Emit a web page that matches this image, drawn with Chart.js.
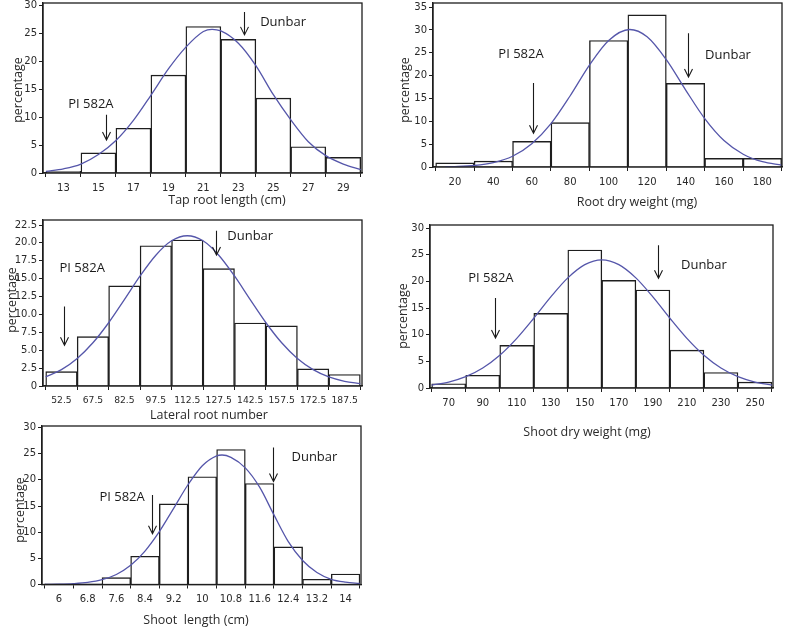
<!DOCTYPE html>
<html>
<head>
<meta charset="utf-8">
<script src="https://cdn.jsdelivr.net/npm/chart.js@4"></script>
<style>
    body { margin: 0; background: #fff; width: 791px; height: 631px; position: relative; overflow: hidden; }
    canvas { position: absolute; }
</style>
</head>
<body>
<canvas id="tapRoot" width="395" height="210" style="left:0;top:0"></canvas>
<canvas id="rootWeight" width="396" height="210" style="left:395px;top:0"></canvas>
<canvas id="lateralRoot" width="395" height="215" style="left:0;top:210px"></canvas>
<canvas id="shootWeight" width="396" height="230" style="left:395px;top:210px"></canvas>
<canvas id="shootLength" width="395" height="213" style="left:0;top:418px"></canvas>
<script>
// Tap root length (cm)
const tapCenters = [13, 15, 17, 19, 21, 23, 25, 27, 29];
const tapLabels = ['13', '15', '17', '19', '21', '23', '25', '27', '29'];
const tapPct = [0.3, 3.6, 8.0, 17.5, 26.2, 23.9, 13.4, 4.7, 2.8];
const tapCurveX = [12, 13, 14, 15, 16, 17, 18, 19, 20, 21, 21.5, 22, 23, 24, 25, 26, 27, 28, 29, 30];
const tapCurveY = [0.3, 0.75, 1.6, 3.3, 5.8, 9.4, 13.9, 18.6, 22.5, 25.3, 25.7, 25.4, 23.2, 19.2, 14.0, 9.5, 5.6, 3.1, 1.6, 0.6];
const tapYTicks = [0, 5, 10, 15, 20, 25, 30];

// Root dry weight (mg)
const rootCenters = [20, 40, 60, 80, 100, 120, 140, 160, 180];
const rootLabels = ['20', '40', '60', '80', '100', '120', '140', '160', '180'];
const rootPct = [0.9, 1.3, 5.6, 9.7, 27.7, 33.3, 18.3, 1.9, 1.9];
const rootCurveX = [15, 20, 30, 40, 50, 60, 70, 80, 90, 100, 111, 120, 130, 140, 150, 160, 170, 180, 190];
const rootCurveY = [0.05, 0.1, 0.33, 0.95, 2.35, 5.1, 9.5, 15.6, 22.3, 27.7, 30.1, 28.5, 23.5, 16.9, 10.6, 5.8, 2.8, 1.15, 0.42];
const rootYTicks = [0, 5, 10, 15, 20, 25, 30, 35];

// Lateral root number
const latCenters = [52.5, 67.5, 82.5, 97.5, 112.5, 127.5, 142.5, 157.5, 172.5, 187.5];
const latLabels = ['52.5', '67.5', '82.5', '97.5', '112.5', '127.5', '142.5', '157.5', '172.5', '187.5'];
const latPct = [2.0, 6.9, 14.0, 19.6, 20.4, 16.4, 8.8, 8.4, 2.4, 1.6];
const latCurveX = [45, 52.5, 60, 67.5, 75, 82.5, 90, 97.5, 105, 112.5, 120, 127.5, 135, 142.5, 150, 157.5, 165, 172.5, 180, 187.5, 195];
const latCurveY = [1.27, 2.29, 3.85, 6.04, 8.84, 12.07, 15.38, 18.28, 20.29, 21.0, 20.29, 18.28, 15.38, 12.07, 8.84, 6.04, 3.85, 2.29, 1.27, 0.66, 0.32];
const latYTicks = [0, 2.5, 5, 7.5, 10, 12.5, 15, 17.5, 20, 22.5];
const latYLabels = ['0', '2.5', '5.0', '7.5', '10.0', '12.5', '15.0', '17.5', '20.0', '22.5'];

// Shoot dry weight (mg)
const swCenters = [70, 90, 110, 130, 150, 170, 190, 210, 230, 250];
const swLabels = ['70', '90', '110', '130', '150', '170', '190', '210', '230', '250'];
const swPct = [0.8, 2.4, 8.0, 14.0, 25.9, 20.2, 18.4, 7.1, 2.9, 1.1];
const swCurveX = [60, 70, 80, 90, 100, 110, 120, 130, 140, 150, 160, 170, 180, 190, 200, 210, 220, 230, 240, 250, 260];
const swCurveY = [0.54, 1.11, 2.12, 3.75, 6.14, 9.32, 13.1, 17.1, 20.67, 23.16, 24.06, 23.16, 20.67, 17.1, 13.1, 9.32, 6.14, 3.75, 2.12, 1.11, 0.54];
const swYTicks = [0, 5, 10, 15, 20, 25, 30];

// Shoot length (cm)
const slCenters = [6, 6.8, 7.6, 8.4, 9.2, 10, 10.8, 11.6, 12.4, 13.2, 14];
const slLabels = ['6', '6.8', '7.6', '8.4', '9.2', '10', '10.8', '11.6', '12.4', '13.2', '14'];
const slPct = [0.15, 0.15, 1.3, 5.4, 15.4, 20.6, 25.8, 19.3, 7.2, 1.0, 2.0];
const slCurveX = [5.6, 6.0, 6.4, 6.8, 7.2, 7.6, 8.0, 8.4, 8.8, 9.2, 9.6, 10.0, 10.4, 10.55, 10.8, 11.2, 11.6, 12.0, 12.4, 12.8, 13.2, 13.6, 14.0, 14.4];
const slCurveY = [0.02, 0.06, 0.16, 0.39, 0.91, 1.92, 3.67, 6.39, 10.1, 14.56, 19.07, 22.71, 24.6, 24.76, 24.3, 22.3, 18.6, 13.3, 8.2, 4.6, 2.3, 1.0, 0.45, 0.2];
const slYTicks = [0, 5, 10, 15, 20, 25, 30];

const CURVE = '#5556aa';
const INK = '#1e1e1e';
const TEXT = '#2a2a2a';
const tickFont = { family: 'DejaVu Sans', size: 10 };

// frame, genotype arrows and axis titles
const histMarks = {
    id: 'histMarks',
    afterDatasetsDraw(chart, args, opts) {
        const { ctx, chartArea: a, scales: { x, y } } = chart;
        ctx.save();
        ctx.strokeStyle = INK;
        ctx.lineWidth = 1.3;
        ctx.strokeRect(a.left, a.top, a.right - a.left, a.bottom - a.top);

        (opts.marks || []).forEach(m => {
            const px = Math.round(x.getPixelForValue(m.x)) + 0.5;
            const y1 = y.getPixelForValue(m.top);
            const y2 = y.getPixelForValue(m.tip);
            ctx.strokeStyle = '#1a1a1a';
            ctx.lineWidth = 1.1;
            ctx.beginPath();
            ctx.moveTo(px, y1);
            ctx.lineTo(px, y2);
            ctx.moveTo(px - 4, y2 - 8);
            ctx.lineTo(px, y2);
            ctx.lineTo(px + 4, y2 - 8);
            ctx.stroke();

            ctx.fillStyle = '#1a1a1a';
            ctx.font = '13px "Open Sans"';
            ctx.textAlign = 'center';
            ctx.textBaseline = 'middle';
            ctx.fillText(m.label, x.getPixelForValue(m.textX), y.getPixelForValue(m.textY));
        });
        ctx.restore();
    },
    afterDraw(chart, args, opts) {
        const { ctx } = chart;
        ctx.save();
        ctx.fillStyle = TEXT;
        ctx.font = '12.5px "Open Sans"';
        ctx.textAlign = 'center';
        ctx.textBaseline = 'middle';
        ctx.fillText(opts.xTitle.text, opts.xTitle.x, opts.xTitle.y);
        ctx.translate(opts.yTitle.x, opts.yTitle.y);
        ctx.rotate(-Math.PI / 2);
        ctx.fillText('percentage', 0, 0);
        ctx.restore();
    }
};

function makeHistogram(id, p) {
    const axisGrid = { drawOnChartArea: false, drawTicks: true, tickLength: 4, color: INK, lineWidth: 1 };
    return new Chart(document.getElementById(id), {
        type: 'bar',
        data: {
            datasets: [
                {
                    type: 'line',
                    data: p.curveX.map((v, i) => ({ x: v, y: p.curveY[i] })),
                    borderColor: CURVE,
                    borderWidth: 1.3,
                    pointRadius: 0,
                    cubicInterpolationMode: 'monotone',
                    order: 0
                },
                {
                    type: 'bar',
                    data: p.centers.map((v, i) => ({ x: v, y: p.pct[i] })),
                    backgroundColor: '#fff',
                    borderColor: INK,
                    borderWidth: 1.4,
                    barPercentage: 1,
                    categoryPercentage: 1,
                    order: 1
                }
            ]
        },
        options: {
            responsive: false,
            animation: false,
            layout: { padding: { top: p.area.top, right: p.area.right, left: 0, bottom: 0 } },
            plugins: {
                legend: { display: false },
                tooltip: { enabled: false },
                histMarks: { marks: p.marks, xTitle: p.xTitle, yTitle: p.yTitle }
            },
            scales: {
                x: {
                    type: 'linear',
                    min: p.xMin,
                    max: p.xMax,
                    offset: false,
                    afterBuildTicks: s => { s.ticks = p.centers.map(v => ({ value: v })); },
                    afterFit: s => { s.height = p.area.xh; s.paddingLeft = 0; s.paddingRight = 0; },
                    ticks: {
                        autoSkip: false, maxRotation: 0, minRotation: 0, padding: 5,
                        color: TEXT, font: p.xFont || tickFont,
                        callback: (v, i) => p.xLabels[i]
                    },
                    grid: axisGrid,
                    border: { color: INK, width: 1.3 }
                },
                y: {
                    min: 0,
                    max: p.yMax,
                    afterBuildTicks: s => { s.ticks = p.yTicks.map(v => ({ value: v })); },
                    afterFit: s => { s.width = p.area.yw; s.paddingTop = 0; s.paddingBottom = 0; },
                    ticks: {
                        padding: 2, color: TEXT, font: tickFont,
                        callback: (v, i) => (p.yLabels ? p.yLabels[i] : String(p.yTicks[i]))
                    },
                    grid: axisGrid,
                    border: { color: INK, width: 1.3 }
                }
            }
        },
        plugins: [histMarks]
    });
}

makeHistogram('tapRoot', {
    centers: tapCenters, xLabels: tapLabels, pct: tapPct, curveX: tapCurveX, curveY: tapCurveY,
    yTicks: tapYTicks, xMin: 11.83, xMax: 30.07, yMax: 30.4,
    area: { top: 3, right: 33, yw: 43, xh: 37 },
    xTitle: { text: 'Tap root length (cm)', x: 227, y: 200 },
    yTitle: { x: 18, y: 90 },
    marks: [
        { label: 'PI 582A', x: 15.43, top: 10.4, tip: 5.9, textX: 14.57, textY: 12.3 },
        { label: 'Dunbar', x: 23.33, top: 28.8, tip: 24.7, textX: 25.56, textY: 27.0 }
    ]
});

makeHistogram('rootWeight', {
    centers: rootCenters, xLabels: rootLabels, pct: rootPct, curveX: rootCurveX, curveY: rootCurveY,
    yTicks: rootYTicks, xMin: 8.6, xMax: 190.2, yMax: 35.9,
    area: { top: 3, right: 9, yw: 38, xh: 43 },
    xTitle: { text: 'Root dry weight (mg)', x: 242, y: 202 },
    yTitle: { x: 10, y: 90 },
    marks: [
        { label: 'PI 582A', x: 60.5, top: 18.4, tip: 7.4, textX: 54.4, textY: 24.7 },
        { label: 'Dunbar', x: 141.3, top: 29.3, tip: 19.7, textX: 162.1, textY: 24.5 }
    ]
});

makeHistogram('lateralRoot', {
    centers: latCenters, xLabels: latLabels, pct: latPct, curveX: latCurveX, curveY: latCurveY,
    yTicks: latYTicks, yLabels: latYLabels, xMin: 43.7, xMax: 195.8, yMax: 23.2,
    xFont: { family: 'DejaVu Sans', size: 9.2 },
    area: { top: 10, right: 33, yw: 43, xh: 39 },
    xTitle: { text: 'Lateral root number', x: 209, y: 205 },
    yTitle: { x: 12, y: 90 },
    marks: [
        { label: 'PI 582A', x: 53.6, top: 11.1, tip: 5.7, textX: 62.4, textY: 16.5 },
        { label: 'Dunbar', x: 126.4, top: 21.7, tip: 18.3, textX: 142.5, textY: 20.9 }
    ]
});

makeHistogram('shootWeight', {
    centers: swCenters, xLabels: swLabels, pct: swPct, curveX: swCurveX, curveY: swCurveY,
    yTicks: swYTicks, xMin: 59, xMax: 260.6, yMax: 30.6,
    area: { top: 15, right: 18, yw: 35, xh: 52 },
    xTitle: { text: 'Shoot dry weight (mg)', x: 192, y: 222 },
    yTitle: { x: 8, y: 106 },
    marks: [
        { label: 'PI 582A', x: 97.2, top: 16.9, tip: 9.4, textX: 94.8, textY: 20.6 },
        { label: 'Dunbar', x: 193.3, top: 26.8, tip: 20.6, textX: 220, textY: 23 }
    ]
});

makeHistogram('shootLength', {
    centers: slCenters, xLabels: slLabels, pct: slPct, curveX: slCurveX, curveY: slCurveY,
    yTicks: slYTicks, xMin: 5.525, xMax: 14.43, yMax: 30.3,
    area: { top: 8, right: 34, yw: 42, xh: 46.5 },
    xTitle: { text: 'Shoot  length (cm)', x: 196, y: 202 },
    yTitle: { x: 20, y: 92 },
    marks: [
        { label: 'PI 582A', x: 8.59, top: 17.1, tip: 9.7, textX: 7.76, textY: 16.7 },
        { label: 'Dunbar', x: 11.98, top: 26.2, tip: 19.7, textX: 13.13, textY: 24.4 }
    ]
});
</script>
</body>
</html>
